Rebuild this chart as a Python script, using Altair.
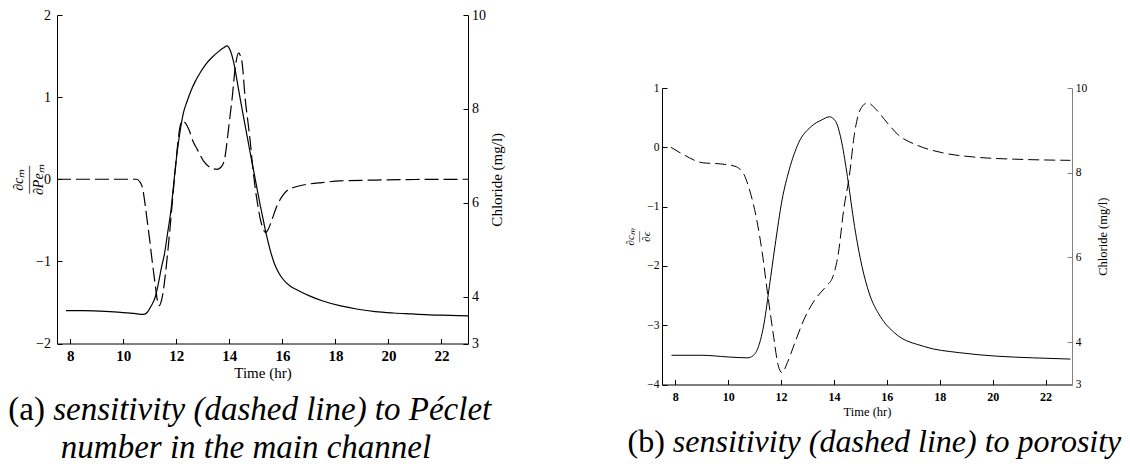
import altair as alt
import pandas as pd

# ---------------- data ----------------
X_TICKS = [8, 10, 12, 14, 16, 18, 20, 22]
A_LEFT_TICKS = [-2, -1, 0, 1, 2]
B_LEFT_TICKS = [-4, -3, -2, -1, 0, 1]
RIGHT_TICKS = [3, 4, 6, 8, 10]

# panel (a): chloride (solid, right axis)
A_SOLID_T = [7.84, 8.5, 9.13, 9.8, 10.4, 10.77, 10.9, 11.05, 11.2, 11.33,
             11.45, 11.55, 11.67, 11.8, 11.9, 12.03, 12.15, 12.27, 12.4, 12.55,
             12.71, 12.91, 13.11, 13.35, 13.59, 13.78, 13.91, 14.03, 14.16, 14.29,
             14.42, 14.55, 14.67, 14.8, 14.93, 15.05, 15.17, 15.29, 15.42, 15.55,
             15.7, 15.85, 16.01, 16.3, 16.56, 17.0, 17.5, 18.2, 18.85, 19.5,
             20.2, 20.9, 21.55, 22.3, 23.0]
A_SOLID_C = [3.70, 3.70, 3.69, 3.67, 3.64, 3.62, 3.66, 3.80, 3.98, 4.30,
             4.65, 4.90, 5.35, 5.85, 6.40, 7.07, 7.55, 7.92, 8.15, 8.38,
             8.58, 8.78, 8.95, 9.10, 9.22, 9.30, 9.34, 9.25, 9.00, 8.60,
             8.18, 7.78, 7.42, 7.02, 6.64, 6.28, 5.93, 5.60, 5.26, 4.97,
             4.70, 4.52, 4.38, 4.22, 4.14, 4.02, 3.91, 3.80, 3.73, 3.68,
             3.65, 3.63, 3.61, 3.60, 3.59]

# panel (a): sensitivity to Peclet number (dashed, left axis)
A_DASH_T = [7.5, 10.5, 10.62, 10.72, 10.82, 10.9, 11.0, 11.08, 11.15, 11.21,
            11.3, 11.36, 11.42, 11.5, 11.58, 11.65, 11.77, 11.87, 11.97, 12.06,
            12.14, 12.22, 12.35, 12.47, 12.62, 12.78, 13.03, 13.3, 13.54, 13.66,
            13.78, 13.85, 13.91, 14.0, 14.1, 14.23, 14.35, 14.42, 14.48, 14.6,
            14.7, 14.79, 14.88, 14.98, 15.08, 15.17, 15.27, 15.36, 15.45, 15.61,
            15.8, 16.01, 16.2, 16.42, 16.96, 17.5, 18.17, 19.53, 21.0, 23.0]
A_DASH_V = [0.0, 0.0, -0.03, -0.10, -0.30, -0.50, -0.75, -0.97, -1.15, -1.30,
            -1.50, -1.54, -1.50, -1.38, -1.18, -0.97, -0.57, -0.20, 0.15, 0.45,
            0.64, 0.71, 0.68, 0.61, 0.47, 0.37, 0.22, 0.14, 0.12, 0.14,
            0.20, 0.30, 0.45, 0.70, 0.97, 1.38, 1.54, 1.50, 1.42, 0.97,
            0.70, 0.45, 0.15, -0.12, -0.33, -0.49, -0.60, -0.65, -0.62, -0.49,
            -0.32, -0.20, -0.13, -0.10, -0.06, -0.04, -0.02, -0.01, -0.003, 0.0]

# panel (b): chloride (solid, right axis)
B_SOLID_T = [7.86, 9.02, 10.0, 10.74, 10.94, 11.15, 11.36, 11.56, 11.77, 12.04,
             12.31, 12.66, 13.14, 13.55, 13.83, 13.97, 14.1, 14.3, 14.51, 14.78,
             15.06, 15.33, 15.75, 16.29, 17.39, 18.76, 20.13, 21.5, 22.94]
B_SOLID_C = [3.69, 3.69, 3.65, 3.63, 3.68, 3.90, 4.45, 5.32, 6.26, 7.36,
             8.07, 8.70, 9.09, 9.25, 9.32, 9.28, 9.17, 8.70, 7.91, 6.73,
             5.79, 5.16, 4.61, 4.22, 3.90, 3.75, 3.67, 3.63, 3.60]

# panel (b): sensitivity to porosity (dashed, left axis)
B_DASH_T = [7.84, 8.34, 9.02, 9.71, 10.26, 10.45, 10.6, 10.81, 11.08, 11.29,
            11.49, 11.7, 11.9, 12.04, 12.24, 12.52, 12.86, 13.28, 13.69, 13.96,
            14.17, 14.37, 14.58, 14.78, 14.99, 15.27, 15.61, 16.02, 16.43, 17.12,
            18.08, 19.45, 20.82, 22.94]
B_DASH_V = [0.0, -0.13, -0.26, -0.28, -0.32, -0.37, -0.46, -0.72, -1.22, -1.78,
            -2.46, -3.13, -3.69, -3.80, -3.63, -3.30, -2.91, -2.57, -2.35, -2.18,
            -1.78, -1.05, -0.49, 0.24, 0.63, 0.75, 0.63, 0.41, 0.21, 0.04,
            -0.09, -0.17, -0.20, -0.22]

CAP_A1_UP = "(a)"
CAP_A1_IT = "sensitivity (dashed line) to Péclet"
CAP_A2_IT = "number in the main channel"
CAP_B_UP = "(b)"
CAP_B_IT = "sensitivity (dashed line) to porosity"

FONT = "Liberation Serif"
INWARD = alt.ExprRef("-5")

A_W, A_H = 411, 328.5
B_W, B_H = 410, 296.5


def frame(t, v):
    return pd.DataFrame({"t": t, "v": v})


def caption(text, x, y, size, style, align):
    return alt.Chart(pd.DataFrame({"s": [text]})).mark_text(
        font=FONT, fontSize=size, fontStyle=style, align=align,
        baseline="alphabetic", color="black"
    ).encode(x=alt.value(x), y=alt.value(y), text="s:N")


def panel(dash_t, dash_v, solid_t, solid_c, left_dom, left_ticks, left_title,
          fs, lfs, dash, sw, lt_size, lt_lh, lt_x, xlab_pad, xtitle_y,
          ylab_pad_l, ylab_pad_r, rtitle_x, right_col):
    x_enc = alt.X(
        "t:Q", scale=alt.Scale(domain=[7.5, 23], nice=False, zero=False),
        axis=alt.Axis(values=X_TICKS, title="Time (hr)", tickSize=INWARD,
                      labelPadding=xlab_pad, labelFontWeight="bold",
                      labelFontSize=lfs, titleFontSize=fs, titleY=xtitle_y,
                      titleBaseline="middle", titleFontWeight="normal",
                      format="d"))
    dash_layer = alt.Chart(frame(dash_t, dash_v)).mark_line(
        color="black", strokeWidth=sw, strokeDash=dash, interpolate="monotone"
    ).encode(
        x=x_enc,
        y=alt.Y("v:Q", scale=alt.Scale(domain=left_dom, nice=False, zero=False),
                axis=alt.Axis(orient="left", values=left_ticks, title=left_title,
                              tickSize=INWARD, labelPadding=ylab_pad_l,
                              labelFontSize=fs - 1, titleFontSize=lt_size,
                              titleFontStyle="italic", titleFontWeight="normal",
                              titleLineHeight=lt_lh, titleAngle=270,
                              titleX=lt_x, titleAlign="center",
                              titleBaseline="middle", format="d")))
    solid_layer = alt.Chart(frame(solid_t, solid_c)).mark_line(
        color="black", strokeWidth=sw, interpolate="monotone"
    ).encode(
        x=x_enc,
        y=alt.Y("v:Q", scale=alt.Scale(domain=[3, 10], nice=False, zero=False),
                axis=alt.Axis(orient="right", values=RIGHT_TICKS,
                              title="Chloride (mg/l)", tickSize=INWARD,
                              labelPadding=ylab_pad_r, labelFontSize=fs - 1,
                              titleFontSize=fs, titleFontWeight="normal",
                              titleAngle=270, titleX=rtitle_x,
                              titleAlign="center", titleBaseline="middle",
                              domainColor=right_col, tickColor=right_col,
                              format="d")))
    return dash_layer, solid_layer


dA, sA = panel(A_DASH_T, A_DASH_V, A_SOLID_T, A_SOLID_C, [-2, 2], A_LEFT_TICKS,
               ["∂cₘ", "――", "∂Peₘ"], 15, 15, [14, 5], 1.2,
               14, 10, -38.5, 10, 29, 11.5, 8.5, 28, "black")
dB, sB = panel(B_DASH_T, B_DASH_V, B_SOLID_T, B_SOLID_C, [-4, 1], B_LEFT_TICKS,
               ["∂cₘ", "―", "∂ϵ"], 12.5, 12, [11, 5], 1.0,
               11, 8, -31.5, 11.5, 26.5, 8, 8.3, 30, "#808080")

A = alt.layer(
    dA, sA,
    caption(CAP_A1_UP, -48.75, 404.5, 33, "normal", "left"),
    caption(CAP_A1_IT, -3.8, 404.5, 33, "italic", "left"),
    caption(CAP_A2_IT, 189, 442.5, 33, "italic", "center"),
).resolve_scale(y="independent").properties(width=A_W, height=A_H)

B = alt.layer(
    dB, sB,
    caption(CAP_B_UP, -34.5, 363.5, 32, "normal", "left"),
    caption(CAP_B_IT, 10.8, 363.5, 32, "italic", "left"),
).resolve_scale(y="independent").properties(width=B_W, height=B_H)

spacer = alt.Chart(pd.DataFrame({"s": [0]})).mark_point(opacity=0).encode(
    x=alt.value(0), y=alt.value(0)).properties(width=10, height=73)

right = alt.vconcat(spacer, B, spacing=0, bounds="flush")

chart = alt.hconcat(A, right, spacing=194, bounds="flush").resolve_scale(
    x="independent", y="independent"
).properties(
    padding={"left": 0, "top": 0, "right": 0, "bottom": 0},
    background="white",
).configure_view(stroke=None).configure_axis(
    labelFont=FONT, titleFont=FONT, labelColor="black", titleColor="black",
    domainColor="black", tickColor="black", grid=False, domainWidth=1,
    tickWidth=1
)

chart.save("out.html", embed_options={"renderer": "svg", "actions": False})
